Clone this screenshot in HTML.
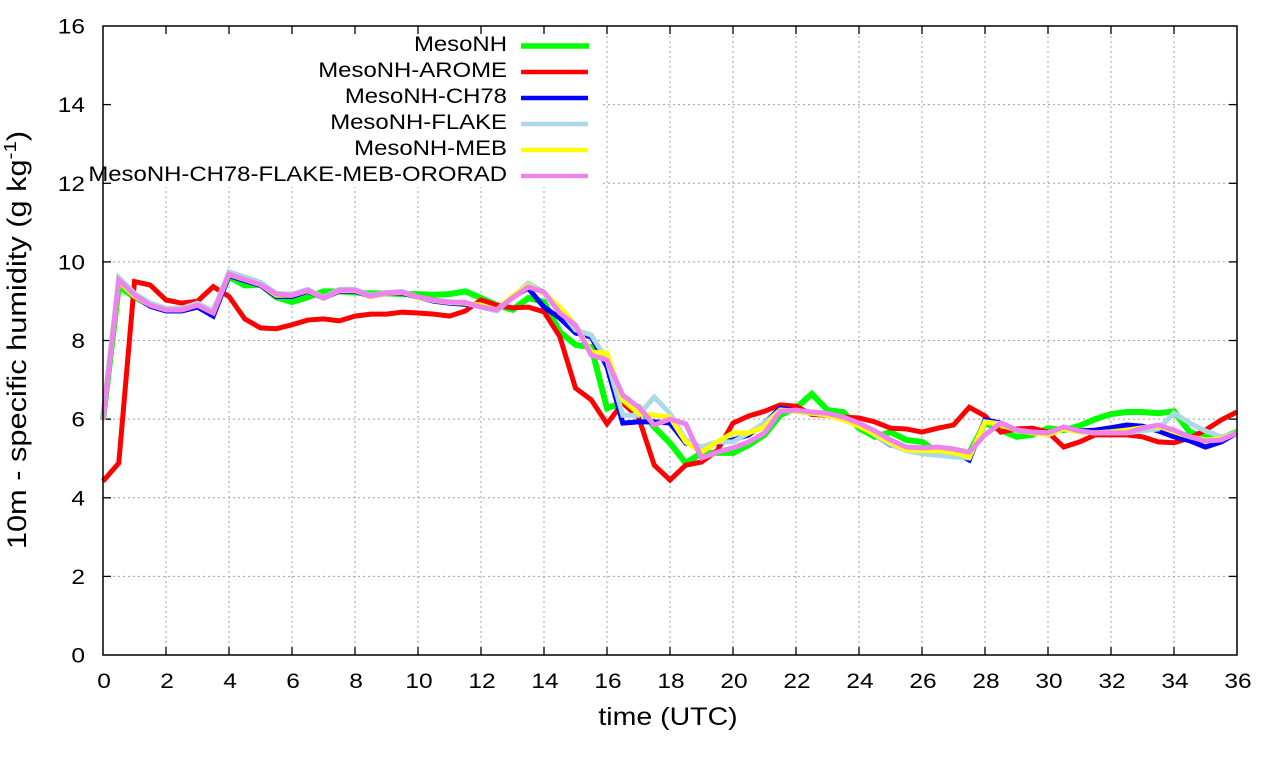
<!DOCTYPE html>
<html><head><meta charset="utf-8"><style>
html,body{margin:0;padding:0;background:#fff;}
svg{display:block;font-family:"Liberation Sans",Arial,sans-serif;}
</style></head><body>
<svg width="1280" height="760" viewBox="0 0 1280 760" xmlns="http://www.w3.org/2000/svg">
<rect width="1280" height="760" fill="#fff"/>
<!-- grid -->
<g stroke="#a0a0a0" stroke-width="1" stroke-dasharray="2,3" fill="none">
<line x1="103" y1="576.4" x2="1237" y2="576.4"/>
<line x1="103" y1="497.8" x2="1237" y2="497.8"/>
<line x1="103" y1="419.1" x2="1237" y2="419.1"/>
<line x1="103" y1="340.5" x2="1237" y2="340.5"/>
<line x1="103" y1="261.9" x2="1237" y2="261.9"/>
<line x1="103" y1="183.3" x2="1237" y2="183.3"/>
<line x1="103" y1="104.6" x2="1237" y2="104.6"/>
<line x1="166" y1="26" x2="166" y2="655"/>
<line x1="229" y1="26" x2="229" y2="655"/>
<line x1="292" y1="26" x2="292" y2="655"/>
<line x1="355" y1="26" x2="355" y2="655"/>
<line x1="418" y1="26" x2="418" y2="655"/>
<line x1="481" y1="26" x2="481" y2="655"/>
<line x1="544" y1="26" x2="544" y2="655"/>
<line x1="607" y1="26" x2="607" y2="655"/>
<line x1="670" y1="26" x2="670" y2="655"/>
<line x1="733" y1="26" x2="733" y2="655"/>
<line x1="796" y1="26" x2="796" y2="655"/>
<line x1="859" y1="26" x2="859" y2="655"/>
<line x1="922" y1="26" x2="922" y2="655"/>
<line x1="985" y1="26" x2="985" y2="655"/>
<line x1="1048" y1="26" x2="1048" y2="655"/>
<line x1="1111" y1="26" x2="1111" y2="655"/>
<line x1="1174" y1="26" x2="1174" y2="655"/>
</g>
<!-- legend background -->
<rect x="104" y="27" width="497" height="160" fill="#fff"/>
<!-- ticks -->
<g stroke="#000" stroke-width="1.3">
<line x1="103" y1="576.4" x2="111" y2="576.4"/><line x1="1237" y1="576.4" x2="1229" y2="576.4"/>
<line x1="103" y1="497.8" x2="111" y2="497.8"/><line x1="1237" y1="497.8" x2="1229" y2="497.8"/>
<line x1="103" y1="419.1" x2="111" y2="419.1"/><line x1="1237" y1="419.1" x2="1229" y2="419.1"/>
<line x1="103" y1="340.5" x2="111" y2="340.5"/><line x1="1237" y1="340.5" x2="1229" y2="340.5"/>
<line x1="103" y1="261.9" x2="111" y2="261.9"/><line x1="1237" y1="261.9" x2="1229" y2="261.9"/>
<line x1="103" y1="183.3" x2="111" y2="183.3"/><line x1="1237" y1="183.3" x2="1229" y2="183.3"/>
<line x1="103" y1="104.6" x2="111" y2="104.6"/><line x1="1237" y1="104.6" x2="1229" y2="104.6"/>
<line x1="166" y1="655" x2="166" y2="647"/><line x1="166" y1="26" x2="166" y2="34"/>
<line x1="229" y1="655" x2="229" y2="647"/><line x1="229" y1="26" x2="229" y2="34"/>
<line x1="292" y1="655" x2="292" y2="647"/><line x1="292" y1="26" x2="292" y2="34"/>
<line x1="355" y1="655" x2="355" y2="647"/><line x1="355" y1="26" x2="355" y2="34"/>
<line x1="418" y1="655" x2="418" y2="647"/><line x1="418" y1="26" x2="418" y2="34"/>
<line x1="481" y1="655" x2="481" y2="647"/><line x1="481" y1="26" x2="481" y2="34"/>
<line x1="544" y1="655" x2="544" y2="647"/><line x1="544" y1="26" x2="544" y2="34"/>
<line x1="607" y1="655" x2="607" y2="647"/><line x1="607" y1="26" x2="607" y2="34"/>
<line x1="670" y1="655" x2="670" y2="647"/><line x1="670" y1="26" x2="670" y2="34"/>
<line x1="733" y1="655" x2="733" y2="647"/><line x1="733" y1="26" x2="733" y2="34"/>
<line x1="796" y1="655" x2="796" y2="647"/><line x1="796" y1="26" x2="796" y2="34"/>
<line x1="859" y1="655" x2="859" y2="647"/><line x1="859" y1="26" x2="859" y2="34"/>
<line x1="922" y1="655" x2="922" y2="647"/><line x1="922" y1="26" x2="922" y2="34"/>
<line x1="985" y1="655" x2="985" y2="647"/><line x1="985" y1="26" x2="985" y2="34"/>
<line x1="1048" y1="655" x2="1048" y2="647"/><line x1="1048" y1="26" x2="1048" y2="34"/>
<line x1="1111" y1="655" x2="1111" y2="647"/><line x1="1111" y1="26" x2="1111" y2="34"/>
<line x1="1174" y1="655" x2="1174" y2="647"/><line x1="1174" y1="26" x2="1174" y2="34"/>
</g>
<!-- y tick labels -->
<g font-size="21.5" fill="#000" text-anchor="end">
<text transform="translate(85,662.5) scale(1.14,1)">0</text>
<text transform="translate(85,584) scale(1.14,1)">2</text>
<text transform="translate(85,505.3) scale(1.14,1)">4</text>
<text transform="translate(85,426.6) scale(1.14,1)">6</text>
<text transform="translate(85,348) scale(1.14,1)">8</text>
<text transform="translate(85,269.4) scale(1.14,1)">10</text>
<text transform="translate(85,190.8) scale(1.14,1)">12</text>
<text transform="translate(85,112.1) scale(1.14,1)">14</text>
<text transform="translate(85,33.5) scale(1.14,1)">16</text>
</g>
<!-- x tick labels -->
<g font-size="21.5" fill="#000" text-anchor="middle">
<text transform="translate(104,688) scale(1.14,1)">0</text>
<text transform="translate(167,688) scale(1.14,1)">2</text>
<text transform="translate(230,688) scale(1.14,1)">4</text>
<text transform="translate(293,688) scale(1.14,1)">6</text>
<text transform="translate(356,688) scale(1.14,1)">8</text>
<text transform="translate(419,688) scale(1.14,1)">10</text>
<text transform="translate(482,688) scale(1.14,1)">12</text>
<text transform="translate(545,688) scale(1.14,1)">14</text>
<text transform="translate(608,688) scale(1.14,1)">16</text>
<text transform="translate(671,688) scale(1.14,1)">18</text>
<text transform="translate(734,688) scale(1.14,1)">20</text>
<text transform="translate(797,688) scale(1.14,1)">22</text>
<text transform="translate(860,688) scale(1.14,1)">24</text>
<text transform="translate(923,688) scale(1.14,1)">26</text>
<text transform="translate(986,688) scale(1.14,1)">28</text>
<text transform="translate(1049,688) scale(1.14,1)">30</text>
<text transform="translate(1112,688) scale(1.14,1)">32</text>
<text transform="translate(1175,688) scale(1.14,1)">34</text>
<text transform="translate(1238,688) scale(1.14,1)">36</text>
</g>
<text transform="translate(668,725) scale(1.14,1)" font-size="25" text-anchor="middle">time (UTC)</text>
<text transform="translate(26,340) rotate(-90) scale(1.14,1)" font-size="27" text-anchor="middle">10m - specific humidity (g kg<tspan font-size="18" dy="-10">-1</tspan><tspan dy="10">)</tspan></text>
<!-- legend -->
<g font-size="21" text-anchor="end" fill="#000">
<text transform="translate(507,51) scale(1.14,1)">MesoNH</text>
<text transform="translate(507,77) scale(1.14,1)">MesoNH-AROME</text>
<text transform="translate(507,103) scale(1.14,1)">MesoNH-CH78</text>
<text transform="translate(507,129) scale(1.14,1)">MesoNH-FLAKE</text>
<text transform="translate(507,155) scale(1.14,1)">MesoNH-MEB</text>
<text transform="translate(507,181) scale(1.14,1)">MesoNH-CH78-FLAKE-MEB-ORORAD</text>
</g>
<g stroke-width="4.5">
<line x1="521" y1="46" x2="589" y2="46" stroke="#00ff00" stroke-width="5.5"/>
<line x1="521" y1="72" x2="588" y2="72" stroke="#ff0000"/>
<line x1="521" y1="98" x2="588" y2="98" stroke="#0000ff"/>
<line x1="521" y1="124" x2="588" y2="124" stroke="#add8e6"/>
<line x1="521" y1="150" x2="588" y2="150" stroke="#ffff00"/>
<line x1="521" y1="176" x2="588" y2="176" stroke="#ee82ee"/>
</g>
<!-- data -->
<g transform="translate(103,655) scale(31.5,-39.3125)" fill="none" stroke-linejoin="miter" stroke-linecap="butt">
<polyline vector-effect="non-scaling-stroke" stroke="#00ff00" stroke-width="6" points="0,5.98 0.5,9.38 1,9.1 1.5,8.92 2,8.8 2.5,8.8 3,8.9 3.5,8.75 4,9.62 4.5,9.4 5,9.42 5.5,9.1 6,8.98 6.5,9.1 7,9.25 7.5,9.25 8,9.22 8.5,9.2 9,9.2 9.5,9.18 10,9.18 10.5,9.16 11,9.18 11.5,9.25 12,9.08 12.5,8.9 13,8.78 13.5,9.08 14,8.98 14.5,8.22 15,7.89 15.5,7.83 16,6.28 16.5,6.41 17,6.31 17.5,5.8 18,5.39 18.5,4.88 19,5.14 19.5,5.14 20,5.14 20.5,5.34 21,5.6 21.5,6.1 22,6.28 22.5,6.64 23,6.23 23.5,6.18 24,5.77 24.5,5.55 25,5.67 25.5,5.47 26,5.42 26.5,5.16 27,5.14 27.5,5.14 28,5.9 28.5,5.72 29,5.55 29.5,5.6 30,5.77 30.5,5.72 31,5.83 31.5,6.0 32,6.13 32.5,6.18 33,6.18 33.5,6.15 34,6.2 34.5,5.67 35,5.55 35.5,5.52 36,5.67"/>
<polyline vector-effect="non-scaling-stroke" stroke="#ff0000" stroke-width="5" points="0,4.42 0.5,4.88 1,9.5 1.5,9.41 2,9.03 2.5,8.95 3,9.0 3.5,9.37 4,9.12 4.5,8.55 5,8.32 5.5,8.3 6,8.4 6.5,8.52 7,8.55 7.5,8.5 8,8.62 8.5,8.67 9,8.67 9.5,8.72 10,8.7 10.5,8.67 11,8.62 11.5,8.75 12,9.03 12.5,8.9 13,8.83 13.5,8.85 14,8.73 14.5,8.1 15,6.79 15.5,6.49 16,5.88 16.5,6.41 17,6.05 17.5,4.83 18,4.45 18.5,4.83 19,4.91 19.5,5.2 20,5.9 20.5,6.08 21,6.2 21.5,6.36 22,6.33 22.5,6.12 23,6.1 23.5,6.05 24,6.03 24.5,5.93 25,5.77 25.5,5.75 26,5.67 26.5,5.77 27,5.85 27.5,6.3 28,6.08 28.5,5.67 29,5.75 29.5,5.77 30,5.67 30.5,5.29 31,5.42 31.5,5.6 32,5.6 32.5,5.6 33,5.55 33.5,5.42 34,5.4 34.5,5.52 35,5.72 35.5,5.98 36,6.18"/>
<polyline vector-effect="non-scaling-stroke" stroke="#0000ff" stroke-width="5" points="0,5.98 0.5,9.5 1,9.12 1.5,8.87 2,8.75 2.5,8.75 3,8.85 3.5,8.62 4,9.65 4.5,9.52 5,9.4 5.5,9.12 6,9.12 6.5,9.25 7,9.08 7.5,9.25 8,9.25 8.5,9.12 9,9.2 9.5,9.2 10,9.1 10.5,9.0 11,8.95 11.5,8.92 12,8.9 12.5,8.78 13,9.1 13.5,9.33 14,8.85 14.5,8.57 15,8.19 15.5,8.09 16,7.33 16.5,5.9 17,5.93 17.5,5.93 18,5.9 18.5,5.39 19,5.29 19.5,5.39 20,5.47 20.5,5.6 21,5.9 21.5,6.28 22,6.2 22.5,6.15 23,6.12 23.5,6.0 24,5.85 24.5,5.6 25,5.34 25.5,5.28 26,5.21 26.5,5.18 27,5.16 27.5,4.96 28,5.98 28.5,5.9 29,5.72 29.5,5.67 30,5.65 30.5,5.75 31,5.7 31.5,5.72 32,5.78 32.5,5.85 33,5.82 33.5,5.7 34,5.55 34.5,5.45 35,5.29 35.5,5.42 36,5.65"/>
<polyline vector-effect="non-scaling-stroke" stroke="#add8e6" stroke-width="5" points="0,6.0 0.5,9.6 1,9.2 1.5,8.95 2,8.82 2.5,8.82 3,8.95 3.5,8.75 4,9.75 4.5,9.62 5,9.48 5.5,9.2 6,9.18 6.5,9.3 7,9.1 7.5,9.3 8,9.3 8.5,9.15 9,9.22 9.5,9.25 10,9.1 10.5,9.02 11,8.97 11.5,8.95 12,8.85 12.5,8.75 13,9.1 13.5,9.46 14,9.23 14.5,8.78 15,8.27 15.5,8.14 16,7.5 16.5,6.1 17,6.1 17.5,6.56 18,6.15 18.5,5.47 19,5.29 19.5,5.42 20,5.42 20.5,5.65 21,5.9 21.5,6.23 22,6.2 22.5,6.15 23,6.12 23.5,6.0 24,5.85 24.5,5.6 25,5.35 25.5,5.2 26,5.12 26.5,5.08 27,5.04 27.5,5.01 28,5.93 28.5,5.88 29,5.72 29.5,5.67 30,5.65 30.5,5.75 31,5.68 31.5,5.65 32,5.65 32.5,5.65 33,5.7 33.5,5.75 34,6.15 34.5,5.9 35,5.7 35.5,5.55 36,5.65"/>
<polyline vector-effect="non-scaling-stroke" stroke="#ffff00" stroke-width="5" points="0,5.98 0.5,9.5 1,9.12 1.5,8.9 2,8.78 2.5,8.78 3,8.9 3.5,8.7 4,9.68 4.5,9.55 5,9.42 5.5,9.15 6,9.15 6.5,9.27 7,9.08 7.5,9.27 8,9.27 8.5,9.12 9,9.2 9.5,9.22 10,9.1 10.5,9.02 11,8.97 11.5,8.95 12,8.9 12.5,8.78 13,9.13 13.5,9.4 14,9.2 14.5,8.85 15,8.39 15.5,7.7 16,7.68 16.5,6.49 17,6.15 17.5,6.1 18,6.05 18.5,5.42 19,5.16 19.5,5.42 20,5.65 20.5,5.65 21,5.8 21.5,6.23 22,6.2 22.5,6.15 23,6.1 23.5,5.98 24,5.82 24.5,5.62 25,5.4 25.5,5.22 26,5.2 26.5,5.2 27,5.15 27.5,5.04 28,5.93 28.5,5.85 29,5.72 29.5,5.65 30,5.6 30.5,5.75 31,5.68 31.5,5.65 32,5.68 32.5,5.72 33,5.78 33.5,5.82 34,5.68 34.5,5.55 35,5.47 35.5,5.5 36,5.65"/>
<polyline vector-effect="non-scaling-stroke" stroke="#ee82ee" stroke-width="5" points="0,5.98 0.5,9.54 1,9.16 1.5,8.9 2,8.78 2.5,8.78 3,8.9 3.5,8.7 4,9.69 4.5,9.55 5,9.42 5.5,9.18 6,9.15 6.5,9.28 7,9.08 7.5,9.28 8,9.28 8.5,9.13 9,9.21 9.5,9.23 10,9.11 10.5,9.03 11,8.98 11.5,8.97 12,8.85 12.5,8.78 13,9.08 13.5,9.36 14,9.23 14.5,8.7 15,8.39 15.5,7.63 16,7.5 16.5,6.61 17,6.31 17.5,5.85 18,6.0 18.5,5.88 19,5.01 19.5,5.16 20,5.27 20.5,5.42 21,5.65 21.5,6.2 22,6.23 22.5,6.18 23,6.15 23.5,6.05 24,5.9 24.5,5.7 25,5.47 25.5,5.29 26,5.27 26.5,5.29 27,5.24 27.5,5.16 28,5.6 28.5,5.9 29,5.72 29.5,5.67 30,5.65 30.5,5.8 31,5.7 31.5,5.65 32,5.65 32.5,5.65 33,5.77 33.5,5.85 34,5.72 34.5,5.55 35,5.44 35.5,5.47 36,5.65"/>
</g>
<!-- border -->
<rect x="103" y="26" width="1134" height="629" fill="none" stroke="#000" stroke-width="1.5"/>
</svg>
</body></html>
